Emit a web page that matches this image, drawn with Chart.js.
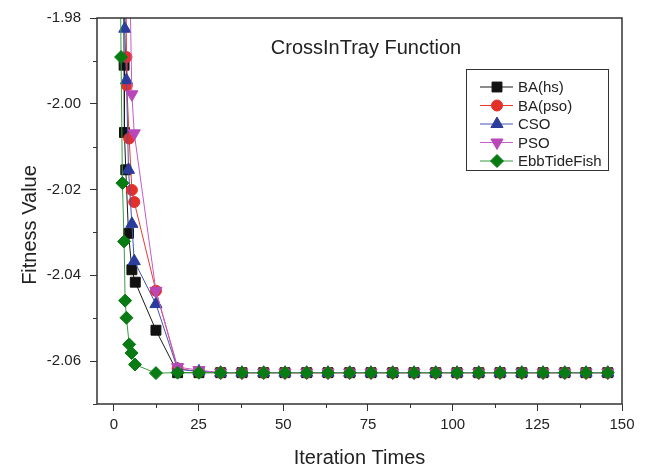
<!DOCTYPE html>
<html>
<head>
<meta charset="utf-8">
<script src="https://cdn.jsdelivr.net/npm/chart.js@4.4.0/dist/chart.umd.min.js"></script>
<style>
    html, body { margin: 0; padding: 0; background: #fff; }
    #wrap { width: 649px; height: 470px; }
</style>
</head>
<body>
<div id="wrap"><canvas id="chart" width="649" height="470"></canvas></div>
<script>
// series labels
const seriesNames = ['BA(hs)', 'BA(pso)', 'CSO', 'PSO', 'EbbTideFish'];

// early iterations (first point sits above the plot)
const hsIters  = [2.7, 3.0, 3.1, 3.5, 4.3, 5.3, 6.3, 12.4, 18.8, 25.1];
const hsFit    = [-1.95, -1.9910, -2.0067, -2.0154, -2.0302, -2.0387, -2.0416, -2.0528, -2.0627, -2.0627];

const psoBaIters = [3.4, 3.7, 3.8, 4.5, 5.3, 6.0, 12.4, 18.8, 25.1];
const psoBaFit   = [-1.95, -1.9891, -1.9957, -2.0081, -2.0201, -2.0229, -2.0436, -2.0617, -2.0625];

const csoIters = [3.0, 3.2, 3.7, 4.3, 5.3, 6.0, 12.4, 18.8, 25.1];
const csoFit   = [-1.95, -1.9825, -1.9945, -2.0154, -2.0280, -2.0367, -2.0467, -2.0619, -2.0624];

const psoIters = [4.2, 5.3, 6.0, 12.4, 18.8, 25.1];
const psoFit   = [-1.95, -1.9978, -2.0069, -2.0436, -2.0614, -2.0621];

const etfIters = [1.7, 2.1, 2.5, 3.0, 3.3, 3.7, 4.5, 5.2, 6.2, 12.4, 18.8, 25.1];
const etfFit   = [-1.95, -1.9891, -2.0185, -2.0321, -2.0459, -2.0499, -2.0561, -2.0581, -2.0608, -2.0628, -2.0627, -2.0627];

// converged part, same for every algorithm
const tailIters = [31.5, 37.8, 44.2, 50.5, 56.9, 63.2, 69.6, 75.9, 82.3, 88.6, 95.0,
                   101.3, 107.7, 114.0, 120.4, 126.7, 133.1, 139.4, 145.8];
const tailFit   = [-2.0627, -2.0627, -2.0627, -2.0627, -2.0627, -2.0627, -2.0627, -2.0627, -2.0627, -2.0627, -2.0627,
                   -2.0627, -2.0627, -2.0627, -2.0627, -2.0627, -2.0627, -2.0627, -2.0627];

// axis ticks
const xMajorTicks = [0, 25, 50, 75, 100, 125, 150];
const xMinorTicks = [12.5, 37.5, 62.5, 87.5, 112.5, 137.5];
const yMajorTicks = [-2.06, -2.04, -2.02, -2.00, -1.98];
const yMinorTicks = [-2.07, -2.05, -2.03, -2.01, -1.99];

function toPoints(iters, fit) {
    const all = iters.concat(tailIters);
    const vals = fit.concat(tailFit);
    return all.map((x, i) => ({ x: x, y: vals[i] }));
}

const styles = [
    { line: '#1a1a1a', mark: '#111111', pointStyle: 'rect', radius: 7, rotation: 0, order: 4 },
    { line: '#ea3a2e', mark: '#e5302a', pointStyle: 'circle', radius: 5.5, rotation: 0, order: 3 },
    { line: '#4455b5', mark: '#2b3c9c', pointStyle: 'triangle', radius: 7, rotation: 0, order: 2 },
    { line: '#c55bcc', mark: '#b947b9', pointStyle: 'triangle', radius: 7, rotation: 180, order: 1 },
    { line: '#3b9a42', mark: '#087c12', pointStyle: 'rectRot', radius: 6.5, rotation: 0, order: 0 }
];

const seriesData = [
    toPoints(hsIters, hsFit),
    toPoints(psoBaIters, psoBaFit),
    toPoints(csoIters, csoFit),
    toPoints(psoIters, psoFit),
    toPoints(etfIters, etfFit)
];

const datasets = seriesNames.map((name, i) => ({
    label: name,
    data: seriesData[i],
    borderColor: styles[i].line,
    borderWidth: 1,
    backgroundColor: styles[i].mark,
    pointBackgroundColor: styles[i].mark,
    pointBorderColor: styles[i].mark,
    pointBorderWidth: 1,
    pointStyle: styles[i].pointStyle,
    pointRadius: styles[i].radius,
    pointRotation: styles[i].rotation,
    order: styles[i].order,
    tension: 0
}));

const FRAME_COLOR = '#333333';
const TEXT_COLOR = '#222222';
const FONT_FAMILY = '"Liberation Sans", Arial, Helvetica, sans-serif';

// frame, minor ticks, title, y title and legend
const decorPlugin = {
    id: 'decor',
    afterDraw(chart) {
        const ctx = chart.ctx;
        const area = chart.chartArea;
        const xs = chart.scales.x;
        const ys = chart.scales.y;

        ctx.save();
        ctx.strokeStyle = FRAME_COLOR;
        ctx.lineWidth = 1.5;
        ctx.strokeRect(area.left, area.top, area.right - area.left, area.bottom - area.top);

        ctx.lineWidth = 1;
        ctx.beginPath();
        xMinorTicks.forEach(v => {
            const px = Math.round(xs.getPixelForValue(v)) + 0.5;
            ctx.moveTo(px, area.bottom);
            ctx.lineTo(px, area.bottom + 4);
        });
        yMinorTicks.forEach(v => {
            const py = Math.round(ys.getPixelForValue(v)) + 0.5;
            ctx.moveTo(area.left, py);
            ctx.lineTo(area.left - 4, py);
        });
        ctx.stroke();

        // chart title inside the plot
        ctx.fillStyle = TEXT_COLOR;
        ctx.font = '20px ' + FONT_FAMILY;
        ctx.textAlign = 'center';
        ctx.textBaseline = 'middle';
        ctx.fillText('CrossInTray Function', area.left + 269, area.top + 30);

        // y axis title
        ctx.save();
        ctx.translate(30, 225);
        ctx.rotate(-Math.PI / 2);
        ctx.fillText('Fitness Value', 0, 0);
        ctx.restore();

        // legend box
        const bx = area.right - 156;
        const by = area.top + 51;
        ctx.lineWidth = 1;
        ctx.strokeStyle = FRAME_COLOR;
        ctx.strokeRect(bx + 0.5, by + 0.5, 142, 101);
        ctx.font = '15px ' + FONT_FAMILY;
        ctx.textAlign = 'left';
        chart.data.datasets.forEach(ds => {
            const ly = by + 18 + chart.data.datasets.indexOf(ds) * 18.5;
            ctx.lineWidth = 1;
            ctx.strokeStyle = ds.borderColor;
            ctx.beginPath();
            ctx.moveTo(bx + 14, ly);
            ctx.lineTo(bx + 47, ly);
            ctx.stroke();

            ctx.fillStyle = ds.pointBackgroundColor;
            ctx.strokeStyle = ds.pointBorderColor;
            Chart.helpers.drawPoint(ctx, {
                pointStyle: ds.pointStyle,
                rotation: ds.pointRotation,
                radius: ds.pointRadius,
                borderWidth: 1
            }, bx + 31, ly);

            ctx.fillStyle = TEXT_COLOR;
            ctx.fillText(ds.label, bx + 52, ly + 1);
        });
        ctx.restore();
    }
};

new Chart(document.getElementById('chart'), {
    type: 'line',
    data: { datasets: datasets },
    options: {
        responsive: false,
        animation: false,
        devicePixelRatio: 1,
        layout: { padding: { top: 16, right: 27, left: 0, bottom: 0 } },
        plugins: {
            legend: { display: false },
            tooltip: { enabled: false },
            title: { display: false }
        },
        scales: {
            x: {
                type: 'linear',
                min: -5,
                max: 150,
                afterBuildTicks: scale => { scale.ticks = xMajorTicks.map(v => ({ value: v })); },
                afterFit: scale => { scale.height = 66; },
                ticks: {
                    font: { size: 15, family: FONT_FAMILY },
                    color: TEXT_COLOR,
                    padding: 5,
                    maxRotation: 0
                },
                grid: { drawOnChartArea: false, drawTicks: true, tickLength: 7, color: FRAME_COLOR },
                border: { display: false },
                title: {
                    display: true,
                    text: 'Iteration Times',
                    color: TEXT_COLOR,
                    font: { size: 20, family: FONT_FAMILY },
                    padding: { top: 0, bottom: 0 }
                }
            },
            y: {
                type: 'linear',
                min: -2.07,
                max: -1.98,
                afterBuildTicks: scale => { scale.ticks = yMajorTicks.map(v => ({ value: v })); },
                afterFit: scale => { scale.width = 97; },
                ticks: {
                    font: { size: 15, family: FONT_FAMILY },
                    color: TEXT_COLOR,
                    padding: 9,
                    callback: v => v.toFixed(2)
                },
                grid: { drawOnChartArea: false, drawTicks: true, tickLength: 7, color: FRAME_COLOR },
                border: { display: false }
            }
        }
    },
    plugins: [decorPlugin]
});
</script>
</body>
</html>
